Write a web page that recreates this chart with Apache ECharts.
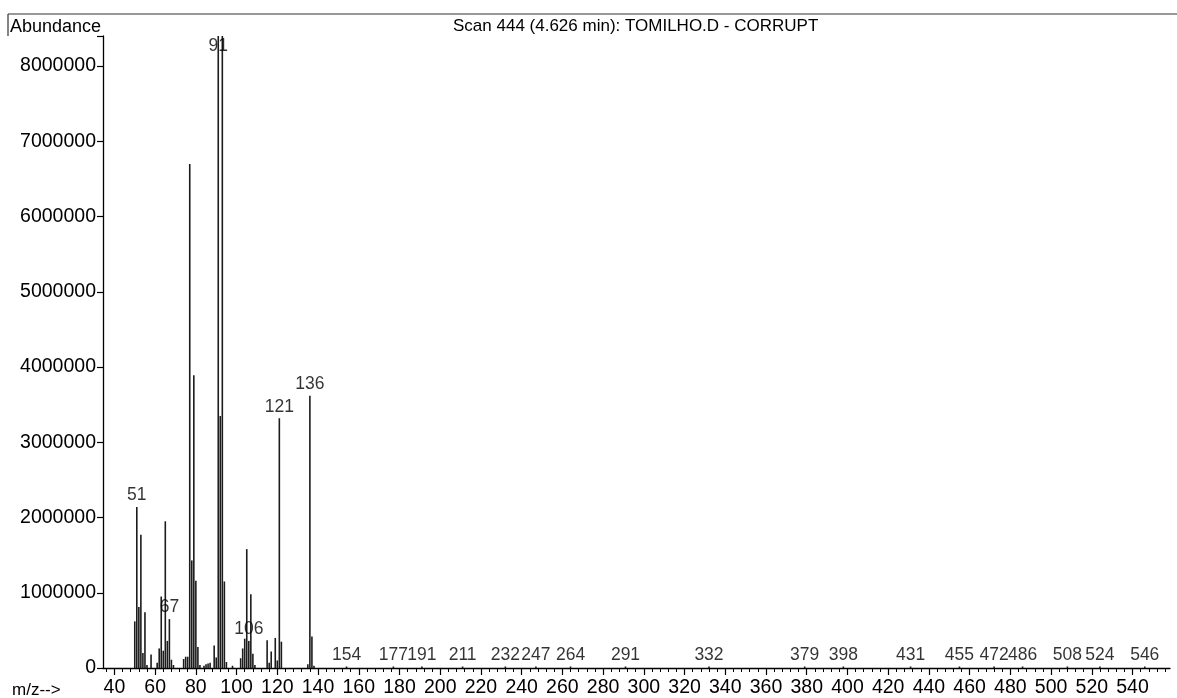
<!DOCTYPE html>
<html>
<head>
<meta charset="utf-8">
<script src="https://cdn.jsdelivr.net/npm/echarts@6/dist/echarts.min.js"></script>
<style>
html,body{margin:0;padding:0;background:#fff;}
#chart{width:1177px;height:698px;}
</style>
</head>
<body>
<div id="chart"></div>
<script>
// m/z values of the peaks
var peakMz = [50,51,52,53,54,55,56,58,61,62,63,64,65,66,67,68,69,74,75,76,77,78,79,80,81,82,84,85,86,87,89,90,91,92,93,94,95,98,102,103,104,105,106,107,108,109,115,116,117,119,120,121,122,135,136,137,138,154,177,191,211,232,247,264,291,332,379,398,431,455,472,486,508,524,546];
// abundances of the peaks
var peakAbundance = [620000,2140000,810000,1770000,200000,740000,40000,180000,70000,260000,950000,230000,1950000,360000,650000,110000,40000,120000,150000,150000,6700000,1430000,3890000,1160000,280000,40000,30000,50000,60000,70000,300000,140000,8400000,3350000,8400000,1150000,80000,30000,130000,260000,390000,1580000,360000,980000,190000,40000,370000,70000,220000,400000,100000,3320000,350000,50000,3620000,420000,30000,20000,20000,20000,20000,20000,20000,20000,20000,20000,20000,20000,20000,20000,20000,20000,20000,20000,20000];
// peaks that carry an m/z label
var labelledMz = [51,67,91,106,121,136,154,177,191,211,232,247,264,291,332,379,398,431,455,472,486,508,524,546];
// x axis tick labels
var xTickLabels = [40,60,80,100,120,140,160,180,200,220,240,260,280,300,320,340,360,380,400,420,440,460,480,500,520,540];
// y axis tick labels
var yTickLabels = [0,1000000,2000000,3000000,4000000,5000000,6000000,7000000,8000000];

var titleText = 'Scan 444 (4.626 min): TOMILHO.D - CORRUPT';

var minorTicks = [];
for (var t = 36; t <= 556; t += 4) minorTicks.push(t);

var FONT = 'Liberation Sans, Arial, sans-serif';
var X_MIN = 34.4, X_MAX = 558.4, Y_MAX = 8400000;

function abundanceOf(m) {
  var i = peakMz.indexOf(m);
  return i >= 0 ? peakAbundance[i] : 0;
}

var barData = peakMz.map(function (m, i) { return [m, peakAbundance[i]]; });
var labelData = labelledMz.map(function (m) {
  var item = { value: [m, abundanceOf(m)] };
  if (m === 91) item.label = { position: 'bottom', distance: 1 };
  return item;
});

var chart = echarts.init(document.getElementById('chart'), null, { renderer: 'canvas' });
chart.setOption({
  animation: false,
  backgroundColor: '#fff',
  textStyle: { fontFamily: FONT },
  title: {
    text: titleText,
    left: 448, top: 13,
    textStyle: { fontSize: 17, fontWeight: 'normal', color: '#000', fontFamily: FONT }
  },
  grid: { left: 103, right: 7, top: 36, bottom: 23 },
  xAxis: [{
    type: 'value', min: X_MIN, max: X_MAX,
    axisLine: { show: true, onZero: false, lineStyle: { color: '#000', width: 1.3 } },
    splitLine: { show: false },
    axisTick: { show: true, customValues: xTickLabels, length: 7, lineStyle: { color: '#000', width: 1.2 } },
    axisLabel: { customValues: xTickLabels, color: '#000', fontSize: 19.5, margin: 10, fontFamily: FONT,
      formatter: function (v) { return String(v); } }
  }, {
    type: 'value', min: X_MIN, max: X_MAX, position: 'bottom',
    axisLine: { show: false },
    splitLine: { show: false },
    axisTick: { show: true, customValues: minorTicks, length: 4, lineStyle: { color: '#000', width: 1 } },
    axisLabel: { show: false }
  }],
  yAxis: {
    type: 'value', min: 0, max: Y_MAX, interval: 1000000,
    axisLine: { show: true, lineStyle: { color: '#000', width: 1.3 } },
    splitLine: { show: false },
    axisTick: { show: true, length: 6, lineStyle: { color: '#000', width: 1.2 } },
    axisLabel: { color: '#000', fontSize: 19.5, margin: 7, fontFamily: FONT,
      formatter: function (v) { return yTickLabels.indexOf(v) >= 0 ? String(v) : ''; } }
  },
  series: [{
    type: 'bar',
    xAxisIndex: 0,
    data: barData,
    barWidth: 1.6,
    itemStyle: { color: '#1c1c1c' },
    silent: true
  }, {
    type: 'scatter',
    xAxisIndex: 0,
    data: labelData,
    symbolSize: 1,
    itemStyle: { color: 'rgba(0,0,0,0)' },
    label: {
      show: true, position: 'top', distance: 2,
      color: '#000', fontSize: 17.5, fontFamily: FONT,
      formatter: function (p) { return String(p.value[0]); }
    },
    silent: true,
    z: 5
  }],
  graphic: [
    { type: 'line', shape: { x1: 8, y1: 14, x2: 1177, y2: 14 }, style: { stroke: '#333', lineWidth: 1.2 } },
    { type: 'line', shape: { x1: 8, y1: 14, x2: 8, y2: 36 }, style: { stroke: '#333', lineWidth: 1.2 } },
    { type: 'text', left: 10, top: 18, style: { text: 'Abundance', font: '18px ' + FONT, fill: '#000' } },
    { type: 'text', left: 12, top: 682, style: { text: 'm/z-->', font: '17px ' + FONT, fill: '#000' } }
  ]
});
</script>
</body>
</html>
